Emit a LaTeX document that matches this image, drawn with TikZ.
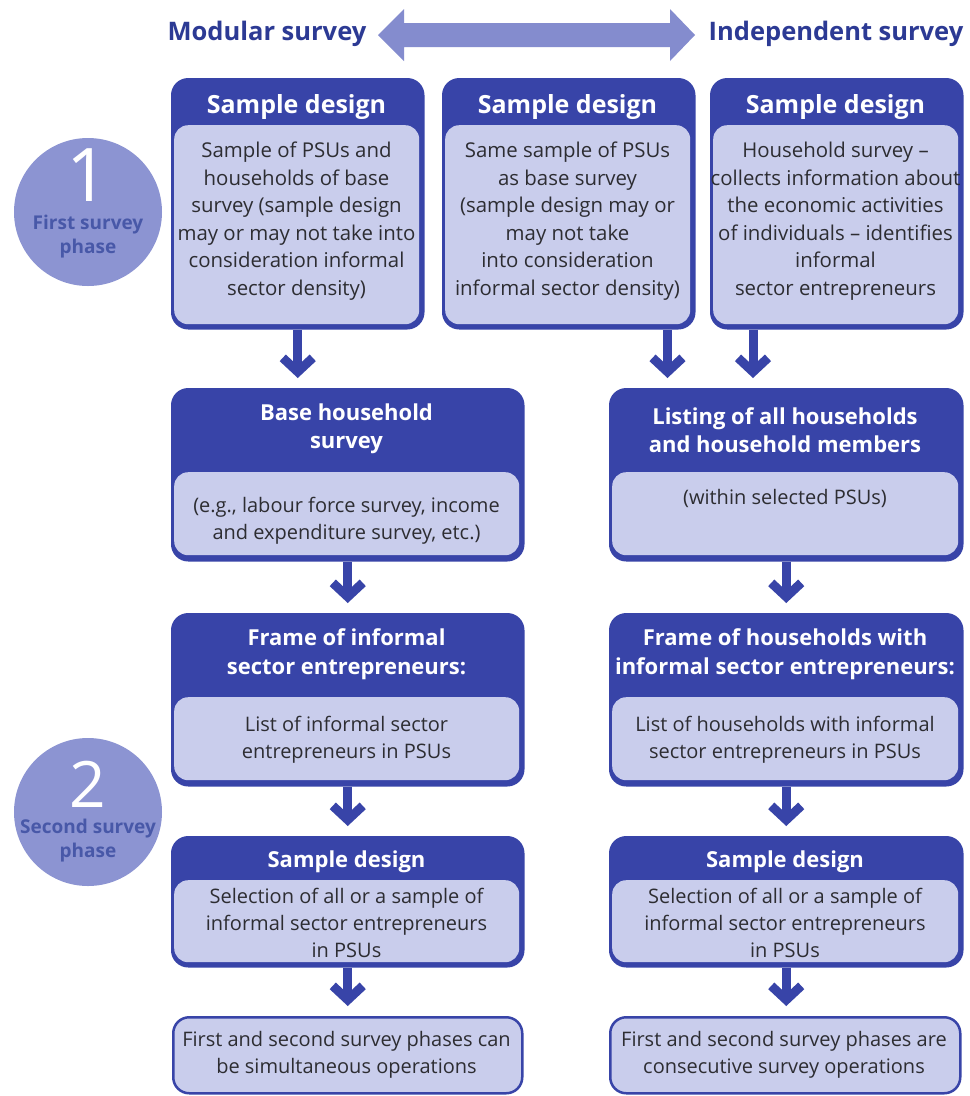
\documentclass[tikz,border=0pt]{standalone}
\usepackage{fontspec}
\setmainfont{Open Sans}
\usetikzlibrary{arrows.meta}
\definecolor{dkblue}{RGB}{56,68,168}
\definecolor{ltblue}{RGB}{201,205,236}
\definecolor{circ}{RGB}{140,148,210}
\definecolor{bigarrow}{RGB}{132,140,206}
\definecolor{titleblue}{RGB}{44,58,148}
\definecolor{circtext}{RGB}{72,88,168}
\definecolor{bodytext}{RGB}{45,45,50}
\begin{document}
\begin{tikzpicture}[x=1pt,y=-1pt,
 outerbox/.style={draw=dkblue, line width=2.5pt, fill=dkblue, rounded corners=16pt, anchor=north west, inner sep=0pt},
 innerbox/.style={fill=ltblue, rounded corners=14pt, anchor=north west, inner sep=0pt},
 plainbox/.style={draw=dkblue, line width=2.5pt, fill=ltblue, rounded corners=16pt, anchor=north west, inner sep=0pt},
 hdr/.style={text=white, font=\bfseries\fontsize{22}{28.5}\selectfont, align=center, inner sep=0pt},
 hdrtop/.style={hdr, font=\bfseries\fontsize{25}{28}\selectfont},
 bodytxt/.style={text=bodytext, font=\fontsize{20}{27}\selectfont, align=center, inner sep=0pt},
 bodytop/.style={bodytxt, font=\fontsize{20.4}{27.5}\selectfont},
 titletxt/.style={text=titleblue, font=\bfseries\fontsize{25.5}{30}\selectfont, inner sep=0pt},
 phasecirc/.style={circle, fill=circ, minimum size=148pt, inner sep=0pt},
 phasenum/.style={text=white, font=\fontsize{#1}{#1}\selectfont, inner sep=0pt},
 phasetxt/.style={text=circtext, font=\bfseries\fontsize{19}{24}\selectfont, align=center, inner sep=0pt},
 flowarrow/.style={draw=dkblue, line width=9pt, -{Straight Barb[length=14pt,width=30pt,sharp]}, shorten >=10pt}
]
\useasboundingbox (0,0) rectangle (970,1096);
\fill[white] (0,0) rectangle (970,1096);

% titles and double arrow
\node[titletxt] (tmod) at (267,34) {Modular survey};
\node[titletxt] (tind) at (836,34) {Independent survey};
\fill[bigarrow] (378,35) -- (404,9) -- (404,23) -- (670,23) -- (670,9) -- (695,35)
  -- (670,61) -- (670,47) -- (404,47) -- (404,61) -- cycle;

% phase circles
\node[phasecirc] (p1) at (88,212) {};
\node[phasenum=74] (p1n) at (88,175) {1};
\node[phasetxt] (p1t) at (88,237) {First survey\\phase};
\node[phasecirc] (p2) at (88,812) {};
\node[phasenum=64] (p2n) at (88,784) {2};
\node[phasetxt] (p2t) at (88,841) {Second survey\\phase};

% row 1
\node[outerbox, minimum width=251pt, minimum height=249pt] (A) at (171,78) {};
\node[innerbox, minimum width=245pt, minimum height=199pt] (Ai) at (174,125) {};
\node[hdrtop] (Ah) at (296.5,107) {Sample design};
\node[bodytop] (Ab) at (296.5,221) {Sample of PSUs and\\households of base\\survey (sample design\\may or may not take into\\consideration informal\\sector density)};

\node[outerbox, minimum width=251pt, minimum height=249pt] (B) at (442,78) {};
\node[innerbox, minimum width=245pt, minimum height=199pt] (Bi) at (445,125) {};
\node[hdrtop] (Bh) at (567.5,107) {Sample design};
\node[bodytop] (Bb) at (567.5,221) {Same sample of PSUs\\as base survey\\(sample design may or\\may not take\\into consideration\\informal sector density)};

\node[outerbox, minimum width=251pt, minimum height=249pt] (C) at (710,78) {};
\node[innerbox, minimum width=245pt, minimum height=199pt] (Ci) at (713,125) {};
\node[hdrtop] (Ch) at (835.5,107) {Sample design};
\node[bodytop] (Cb) at (835.5,221) {Household survey --\\collects information about\\the economic activities\\of individuals -- identifies\\informal\\sector entrepreneurs};

% row 2
\node[outerbox, minimum width=351pt, minimum height=171pt] (D) at (171,388) {};
\node[innerbox, minimum width=345pt, minimum height=83pt] (Di) at (174,472) {};
\node[hdr] (Dh) at (346.5,429) {Base household\\survey};
\node[bodytxt] (Db) at (346.5,521) {(e.g., labour force survey, income\\and expenditure survey, etc.)};

\node[outerbox, minimum width=352pt, minimum height=171pt] (E) at (609,388) {};
\node[innerbox, minimum width=346pt, minimum height=83pt] (Ei) at (612,472) {};
\node[hdr] (Eh) at (785,430) {Listing of all households\\and household members};
\node[bodytxt] (Eb) at (785,498) {(within selected PSUs)};

% row 3
\node[outerbox, minimum width=351pt, minimum height=171pt] (F) at (171,613) {};
\node[innerbox, minimum width=345pt, minimum height=83pt] (Fi) at (174,697) {};
\node[hdr] (Fh) at (346.5,654) {Frame of informal\\sector entrepreneurs:};
\node[bodytxt] (Fb) at (346.5,740) {List of informal sector\\entrepreneurs in PSUs};

\node[outerbox, minimum width=352pt, minimum height=171pt] (G) at (609,613) {};
\node[innerbox, minimum width=346pt, minimum height=83pt] (Gi) at (612,697) {};
\node[hdr] (Gh) at (785,654) {Frame of households with\\informal sector entrepreneurs:};
\node[bodytxt] (Gb) at (785,740) {List of households with informal\\sector entrepreneurs in PSUs};

% row 4
\node[outerbox, minimum width=351pt, minimum height=129pt] (H) at (171,836) {};
\node[innerbox, minimum width=345pt, minimum height=82pt] (Hi) at (174,880) {};
\node[hdr] (Hh) at (346.5,862) {Sample design};
\node[bodytxt] (Hb) at (346.5,923) {Selection of all or a sample of\\informal sector entrepreneurs\\in PSUs};

\node[outerbox, minimum width=352pt, minimum height=129pt] (I) at (609,836) {};
\node[innerbox, minimum width=346pt, minimum height=82pt] (Ii) at (612,880) {};
\node[hdr] (Ih) at (785,862) {Sample design};
\node[bodytxt] (Ib) at (785,923) {Selection of all or a sample of\\informal sector entrepreneurs\\in PSUs};

% row 5
\node[plainbox, minimum width=349pt, minimum height=76pt] (J) at (172,1016) {};
\node[bodytxt] (Jb) at (346.5,1055) {First and second survey phases can\\be simultaneous operations};
\node[plainbox, minimum width=350pt, minimum height=76pt] (K) at (609,1016) {};
\node[bodytxt] (Kb) at (784,1055) {First and second survey phases are\\consecutive survey operations};

% connectors
\draw[flowarrow] (A.south) -- (A.south |- D.north);
\draw[flowarrow] (D.south) -- (F.north);
\draw[flowarrow] (F.south) -- (H.north);
\draw[flowarrow] (H.south) -- (H.south |- J.north);
\path (B.south east) ++(-28,0) coordinate (bout);
\path (C.south west) ++(43,0) coordinate (cout);
\draw[flowarrow] (bout) -- (bout |- E.north);
\draw[flowarrow] (cout) -- (cout |- E.north);
\draw[flowarrow] (E.south) -- (G.north);
\draw[flowarrow] (G.south) -- (I.north);
\draw[flowarrow] (I.south) -- (I.south |- K.north);
\end{tikzpicture}
\end{document}
